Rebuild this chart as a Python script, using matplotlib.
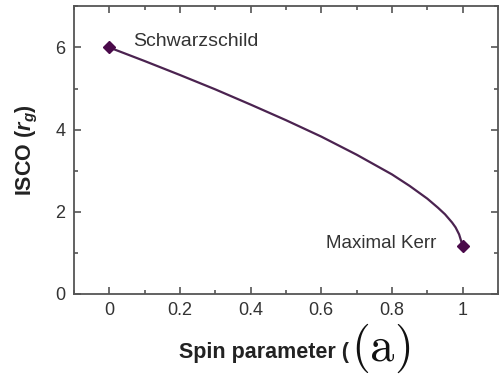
import matplotlib
matplotlib.use('Agg')
import matplotlib.pyplot as plt
from matplotlib.ticker import MultipleLocator

# ISCO radius versus black hole spin
spin = [0.0, 0.1, 0.2, 0.3, 0.4, 0.5, 0.6, 0.7, 0.8, 0.85, 0.9, 0.93, 0.95, 0.97, 0.98, 0.99, 1.0]
isco = [6.0, 5.67, 5.33, 4.98, 4.61, 4.23, 3.83, 3.39, 2.91, 2.63, 2.32, 2.10, 1.94, 1.74, 1.62, 1.45, 1.17]

end_spin = [spin[0], spin[-1]]
end_isco = [isco[0], isco[-1]]
end_labels = ['Schwarzschild', 'Maximal Kerr']

plt.rcParams['font.family'] = ['Liberation Sans', 'DejaVu Sans']
plt.rcParams['mathtext.fontset'] = 'custom'
plt.rcParams['mathtext.it'] = 'Liberation Sans:italic:bold'
plt.rcParams['mathtext.rm'] = 'Liberation Sans:bold'

fig = plt.figure(figsize=(4.99, 3.74), dpi=100)
ax = fig.add_axes([0.148, 0.214, 0.85, 0.769])

ax.plot(spin, isco, color='#4b2350', lw=1.6, zorder=2)
ax.plot(end_spin, end_isco, 'D', color='#4a0a4a', ms=6, zorder=3)

ax.text(end_spin[0] + 0.067, end_isco[0] + 0.15, end_labels[0], fontsize=14,
        color='#333333', va='center', ha='left')
ax.text(end_spin[1] - 0.075, end_isco[1] + 0.05, end_labels[1], fontsize=13.5,
        color='#333333', va='center', ha='right')

ax.set_xlim(-0.1, 1.1)
ax.set_ylim(0, 7)
ax.set_xticks([0, 0.2, 0.4, 0.6, 0.8, 1])
ax.set_xticklabels(['0', '0.2', '0.4', '0.6', '0.8', '1'])
ax.set_yticks([0, 2, 4, 6])
ax.xaxis.set_minor_locator(MultipleLocator(0.1))
ax.yaxis.set_minor_locator(MultipleLocator(1))
ax.tick_params(which='both', direction='in', top=True, right=True,
               colors='#555555', labelcolor='#333333', labelsize=13, width=1.2)
ax.tick_params(which='major', length=5, pad=6)
ax.tick_params(which='minor', length=3)
for s in ax.spines.values():
    s.set_color('#555555')
    s.set_linewidth(1.3)

ax.set_ylabel(r'ISCO ($r_g$)', fontsize=15.5, fontweight='bold', color='#222222', labelpad=11)

fig.text(0.70, 0.058, 'Spin parameter (', fontsize=15.5, fontweight='bold',
         color='#222222', ha='right', va='center')
fig.text(0.762, 0.036, r'$(\mathrm{a})$', fontsize=35, math_fontfamily='cm',
         color='#111111', ha='center', va='baseline')

fig.savefig('out.png', dpi=100)
